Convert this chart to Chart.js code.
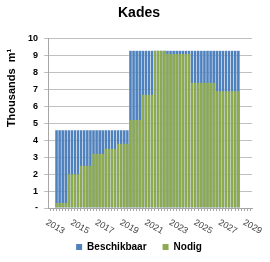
<!DOCTYPE html>
<html>
<head>
<meta charset="utf-8">
<script src="https://cdn.jsdelivr.net/npm/chart.js@4/dist/chart.umd.min.js"></script>
<style>
  html, body { margin: 0; padding: 0; background: #fff; }
  #wrap { width: 270px; height: 262px; }
</style>
</head>
<body>
<div id="wrap"><canvas id="kades"></canvas></div>
<script>
// jaren en waarden (duizenden m1)
const jaren = [2013, 2014, 2015, 2016, 2017, 2018, 2019, 2020, 2021, 2022, 2023, 2024, 2025, 2026, 2027];
const beschikbaar = [4.6, 4.6, 4.6, 4.6, 4.6, 4.6, 9.3, 9.3, 9.3, 9.3, 9.3, 9.3, 9.3, 9.3, 9.3];
const nodig = [0.3, 2.0, 2.5, 3.2, 3.5, 3.8, 5.2, 6.7, 9.3, 9.1, 9.1, 7.4, 7.4, 6.9, 6.9];
const jaarLabels = [2013, 2015, 2017, 2019, 2021, 2023, 2025, 2027, 2029];
const yTicks = [0, 1, 2, 3, 4, 5, 6, 7, 8, 9, 10];

// de grafiek toont kwartaalstaven; elk kwartaal krijgt de waarde van zijn jaar
function perKwartaal(waarden) {
    const punten = [];
    jaren.forEach((jaar, i) => {
        for (let q = 0; q < 4; q++) {
            punten.push({ x: jaar + q * 0.25 + 0.125, y: waarden[i] });
        }
    });
    return punten;
}

// kleine streepjes per kwartaal op de x-as
const kwartaalTicks = [];
for (let v = 2012.5; v <= 2029; v += 0.25) kwartaalTicks.push({ value: v });

// jaartallen schuin naar beneden en de astitel links
const tekstPlugin = {
    id: 'tekstPlugin',
    afterDraw(chart) {
        const ctx = chart.ctx;
        const xs = chart.scales.x;
        const area = chart.chartArea;
        ctx.save();
        ctx.fillStyle = '#404040';
        ctx.font = '9px "Liberation Sans", Arial, sans-serif';
        ctx.textAlign = 'left';
        ctx.textBaseline = 'top';
        jaarLabels.forEach(j => {
            const px = xs.getPixelForValue(j);
            ctx.save();
            ctx.translate(px - 6, area.bottom + 10);
            ctx.rotate(30 * Math.PI / 180);
            ctx.fillText(String(j), 0, 0);
            ctx.restore();
        });
        ctx.restore();

        ctx.save();
        ctx.fillStyle = '#000';
        ctx.font = 'bold 11px "Liberation Sans", Arial, sans-serif';
        ctx.textAlign = 'center';
        ctx.textBaseline = 'middle';
        ctx.translate(12, 88);
        ctx.rotate(-Math.PI / 2);
        ctx.fillText('Thousands  m\u00B9', 0, 0);
        ctx.restore();
    }
};

new Chart(document.getElementById('kades').getContext('2d'), {
    type: 'bar',
    data: {
        datasets: [{
            label: 'Beschikbaar',
            data: perKwartaal(beschikbaar),
            backgroundColor: '#4F81BD',
            borderColor: 'rgba(255, 255, 255, 0.25)',
            borderWidth: { left: 0.8, right: 0, top: 0, bottom: 0 },
            borderSkipped: false,
            grouped: false,
            order: 2,
            barPercentage: 1,
            categoryPercentage: 1
        }, {
            label: 'Nodig',
            data: perKwartaal(nodig),
            backgroundColor: '#8EAA50',
            borderColor: 'rgba(255, 255, 255, 0.25)',
            borderWidth: { left: 0.8, right: 0, top: 0, bottom: 0 },
            borderSkipped: false,
            grouped: false,
            order: 1,
            barPercentage: 1,
            categoryPercentage: 1
        }]
    },
    options: {
        responsive: true,
        maintainAspectRatio: false,
        animation: false,
        layout: {
            padding: { left: 8, right: 0, top: 0, bottom: 0 }
        },
        scales: {
            x: {
                type: 'linear',
                offset: false,
                min: 2012.45,
                max: 2029,
                afterBuildTicks: (scale) => { scale.ticks = kwartaalTicks.slice(); },
                afterFit: (scale) => { scale.height = 18; },
                ticks: { display: false },
                grid: {
                    drawOnChartArea: false,
                    tickLength: 3,
                    color: '#a6a6a6'
                },
                border: { display: true, color: '#a6a6a6' }
            },
            y: {
                min: 0,
                max: 10,
                afterBuildTicks: (scale) => { scale.ticks = yTicks.map(v => ({ value: v })); },
                afterFit: (scale) => { scale.width = 40; },
                ticks: {
                    padding: 6,
                    color: '#000',
                    font: { family: '"Liberation Sans", Arial, sans-serif', size: 9, weight: 'bold' },
                    callback: (v) => (v === 0 ? '-' : v)
                },
                grid: {
                    color: '#c0c0c0',
                    lineWidth: 1,
                    tickLength: 4
                },
                border: { display: true, color: '#a6a6a6' }
            },
            // lege as rechts, alleen voor de witruimte
            rechts: {
                position: 'right',
                min: 0,
                max: 10,
                afterFit: (scale) => { scale.width = 18; },
                ticks: { display: false },
                grid: { display: false },
                border: { display: false }
            }
        },
        plugins: {
            title: {
                display: true,
                text: 'Kades',
                color: '#000',
                font: { family: '"Liberation Sans", Arial, sans-serif', size: 14, weight: 'bold' },
                padding: { top: 5, bottom: 17 }
            },
            legend: {
                position: 'bottom',
                labels: {
                    boxWidth: 6,
                    boxHeight: 6,
                    padding: 16,
                    color: '#000',
                    font: { family: '"Liberation Sans", Arial, sans-serif', size: 10, weight: 'bold' },
                    sort: (a, b) => a.datasetIndex - b.datasetIndex
                }
            },
            tooltip: { enabled: false }
        }
    },
    plugins: [tekstPlugin]
});
</script>
</body>
</html>
